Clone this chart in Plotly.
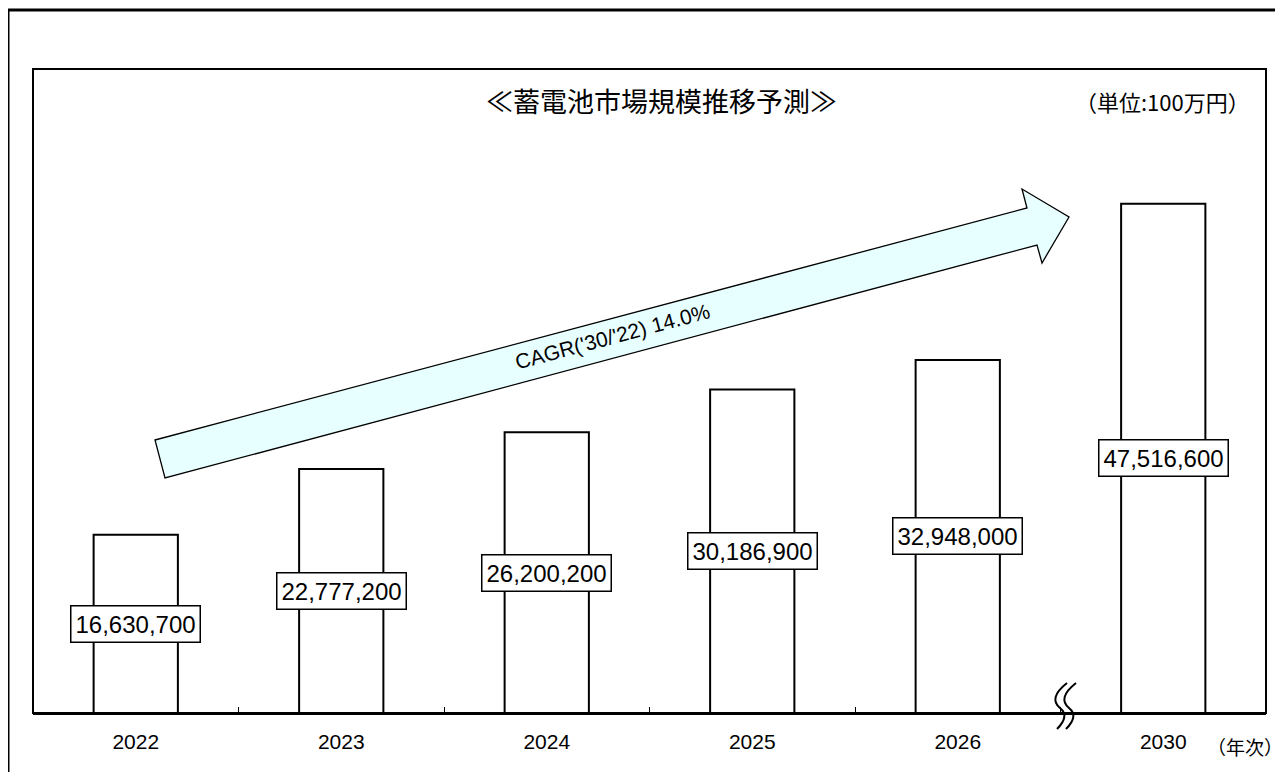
import plotly.graph_objects as go

years = ["2022", "2023", "2024", "2025", "2026", "2030"]
values = [16630700, 22777200, 26200200, 30186900, 32948000, 47516600]
title_text = "≪蓄電池市場規模推移予測≫"
unit_text = "（単位:100万円）"
axis_unit_text = "（年次）"
cagr_text = "CAGR('30/'22) 14.0%"

W, H = 1283, 772
OFF = 8  # page body margin of the html page
L, R, T, B = 33, 1266, 69, 713  # plot area in screen pixels


def px(x):
    return (x - L) / (R - L)


def py(y):
    return (B - y) / (B - T)


def path(points, close=False):
    s = "M " + " L ".join(f"{px(x):.5f},{py(y):.5f}" for x, y in points)
    return s + (" Z" if close else "")


CJK = "Noto Sans CJK JP, Liberation Sans, sans-serif"
NUM = "Liberation Sans, Arial, sans-serif"

fig = go.Figure()
fig.add_trace(go.Bar(
    x=years, y=values, width=0.41,
    marker=dict(color="white", line=dict(color="black", width=2)),
    hoverinfo="x+y", showlegend=False,
))

annotations = []
for i, v in enumerate(values):
    annotations.append(dict(
        x=i, y=v / 2, xref="x", yref="y", text=f"{v:,}", showarrow=False,
        xanchor="center", yanchor="middle",
        font=dict(family=NUM, size=24, color="black"),
        bgcolor="white", bordercolor="black", borderwidth=1.5, borderpad=4,
    ))

annotations += [
    dict(x=px(661), y=py(101), xref="paper", yref="paper", text=title_text,
         xanchor="center", yanchor="middle",
         showarrow=False, font=dict(family=CJK, size=27, color="black")),
    dict(x=px(1162), y=py(101), xref="paper", yref="paper", text=unit_text,
         xanchor="center", yanchor="middle",
         showarrow=False, font=dict(family=CJK, size=22, color="black")),
    dict(x=px(1245), y=py(746), xref="paper", yref="paper", text=axis_unit_text,
         xanchor="center", yanchor="middle",
         showarrow=False, font=dict(family=CJK, size=19, color="black")),
    dict(x=px(612), y=py(336), xref="paper", yref="paper", text=cagr_text,
         xanchor="center", yanchor="middle",
         showarrow=False, textangle=-15, font=dict(family=NUM, size=21, color="black")),
]

arrow_pts = [(155, 440), (1027, 208), (1022, 189), (1069, 217),
             (1042, 263), (1037, 245), (165, 478)]

shapes = [
    # outer frame
    dict(type="line", xref="paper", yref="paper", x0=px(8), x1=px(1295), y0=py(10), y1=py(10),
         line=dict(color="black", width=3)),
    dict(type="line", xref="paper", yref="paper", x0=px(8), x1=px(8), y0=py(10), y1=py(790),
         line=dict(color="black", width=3)),
    # inner frame
    dict(type="rect", xref="paper", yref="paper", x0=0, x1=1, y0=0, y1=1,
         line=dict(color="black", width=2), layer="above"),
    # arrow
    dict(type="path", xref="paper", yref="paper", path=path(arrow_pts, close=True),
         fillcolor="#E8FFFF", line=dict(color="black", width=1.3), layer="below"),
]

# axis break symbol
for dx in (0, 9):
    p = (f"M {px(1067+dx):.5f},{py(683):.5f} Q {px(1048+dx):.5f},{py(698):.5f} "
         f"{px(1060+dx):.5f},{py(708):.5f} Q {px(1070+dx):.5f},{py(716):.5f} "
         f"{px(1057+dx):.5f},{py(729):.5f}")
    shapes.append(dict(type="path", xref="paper", yref="paper", path=p,
                       line=dict(color="black", width=2)))

fig.update_layout(
    width=W, height=H,
    margin=dict(l=L - OFF, r=W - R + OFF, t=T - OFF, b=H - B + OFF),
    paper_bgcolor="white", plot_bgcolor="white",
    annotations=annotations, shapes=shapes,
    xaxis=dict(
        type="category", showline=True, linecolor="black", linewidth=2,
        ticks="inside", ticklen=6, tickcolor="black", tickwidth=1,
        tickson="boundaries", showgrid=False, zeroline=False,
        tickfont=dict(family=NUM, size=21, color="black"),
        ticklabelstandoff=9, range=[-0.5, 5.5],
    ),
    yaxis=dict(range=[0, 60100000], visible=False, showgrid=False, zeroline=False),
)

fig.write_html("out.html")
